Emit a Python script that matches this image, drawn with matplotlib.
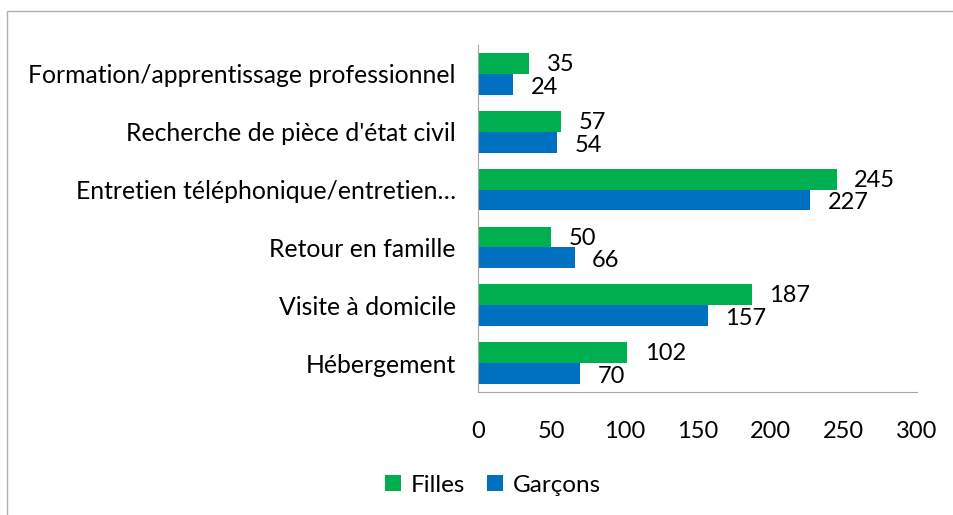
import matplotlib.pyplot as plt
import numpy as np
from matplotlib.patches import Rectangle

plt.rcParams['font.family'] = ['Lato', 'DejaVu Sans']

categories = ["Formation/apprentissage professionnel",
              "Recherche de pièce d'état civil",
              "Entretien téléphonique/entretien…",
              "Retour en famille",
              "Visite à domicile",
              "Hébergement"]
filles = [35, 57, 245, 50, 187, 102]
garcons = [24, 54, 227, 66, 157, 70]

fig = plt.figure(figsize=(9.54, 5.15), dpi=100)
ax = fig.add_axes([478 / 954, 1 - 392 / 515, (917 - 478) / 954, (392 - 45) / 515])

# gray outer frame (cropped on right/bottom in the original)
fig.patches.append(Rectangle((7 / 954, -0.1), 1.2, 1 - 11 / 515 + 0.1,
                             transform=fig.transFigure, fill=False,
                             edgecolor='#b0b0b0', linewidth=1))

y = np.arange(len(categories))
h = 0.36
ax.barh(y - h / 2, filles, height=h, color='#00B050', label='Filles')
ax.barh(y + h / 2, garcons, height=h, color='#0070C0', label='Garçons')

for yi, v in zip(y, filles):
    ax.text(v + 12, yi - h / 2 + 0.02, str(v), va='center', ha='left', fontsize=17)
for yi, v in zip(y, garcons):
    ax.text(v + 12, yi + h / 2 + 0.05, str(v), va='center', ha='left', fontsize=17)

ax.set_yticks(y)
ax.set_yticklabels(categories, fontsize=17.8)
ax.set_ylim(len(categories) - 0.5, -0.5)
ax.set_xlim(0, 300)
ax.set_xticks(range(0, 301, 50))
ax.tick_params(axis='x', labelsize=17, length=0, pad=21)
ax.tick_params(axis='y', length=0, pad=16)

for s in ['top', 'right']:
    ax.spines[s].set_visible(False)
for s in ['left', 'bottom']:
    ax.spines[s].set_color('#a6a6a6')

fig.legend(loc='center', bbox_to_anchor=(493 / 954, 1 - 485 / 515), ncol=2,
           frameon=False, fontsize=17.5, handlelength=0.65, handleheight=0.65,
           handletextpad=0.4, columnspacing=0.9)

fig.savefig('out.png', dpi=100)
